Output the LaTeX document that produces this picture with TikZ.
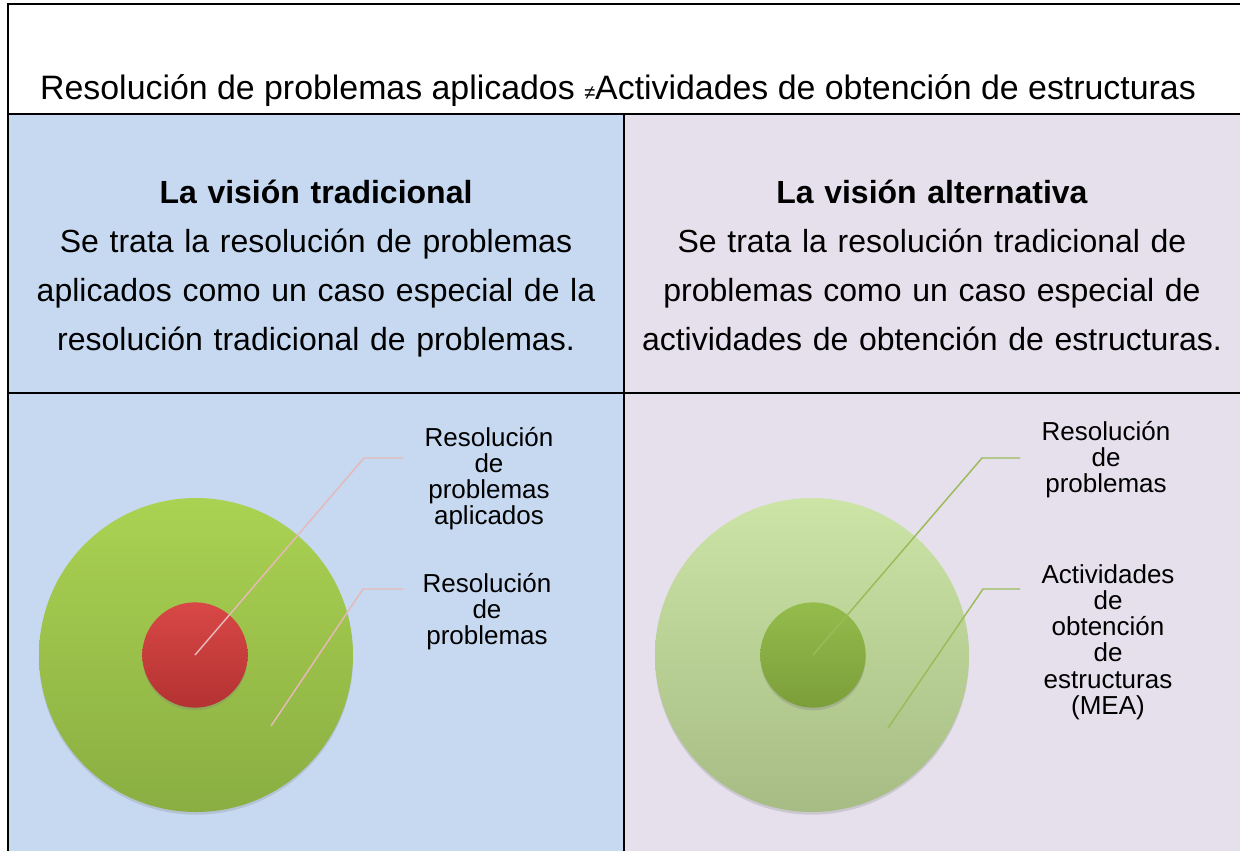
\documentclass[tikz,border=0pt]{standalone}
\usepackage{fontspec}
\setmainfont{Liberation Sans}
\usetikzlibrary{shadows}

\definecolor{cellBlue}{RGB}{198,217,241}
\definecolor{cellLilac}{RGB}{229,224,236}
\definecolor{greenTop}{RGB}{170,210,82}
\definecolor{greenBot}{RGB}{138,174,66}
\definecolor{redTop}{RGB}{216,72,70}
\definecolor{redBot}{RGB}{180,50,50}
\definecolor{paleTop}{RGB}{204,228,166}
\definecolor{paleBot}{RGB}{166,188,132}
\definecolor{darkTop}{RGB}{148,188,76}
\definecolor{darkBot}{RGB}{124,158,58}
\definecolor{leadPink}{RGB}{230,185,184}
\definecolor{leadGreen}{RGB}{155,187,89}

\tikzset{every picture/.style={line width=0.75pt}}
\tikzset{
	rule/.style={line width=1.5pt, black},
	cell text/.style={font=\fontsize{24}{36.75}\selectfont, align=center, text width=450pt, inner sep=0pt, anchor=base},
	label text/.style={font=\fontsize{19.5}{19.7}\selectfont, align=center, text width=110pt, inner sep=0pt, anchor=base},
	big disc/.style={circle, inner sep=0pt, minimum size=235.5pt, drop shadow={opacity=0.25, shadow xshift=0pt, shadow yshift=-2pt}},
	small disc/.style={circle, inner sep=0pt, minimum size=79pt, drop shadow={opacity=0.3, shadow xshift=0pt, shadow yshift=-2pt}},
	lead pink/.style={leadPink, line width=1.1pt},
	lead green/.style={leadGreen, line width=1.1pt}}

\begin{document}
\begin{tikzpicture}[x=0.75pt,y=0.75pt,yscale=-1,xscale=1]
	\useasboundingbox (0,0) rectangle (1240,851);

	%Cells
	\fill [white] (0,0) rectangle (1240,851);
	\fill [cellBlue] (8,114) rectangle (624,851);
	\fill [cellLilac] (624,114) rectangle (1240,851);
	\draw [rule] (8,851) -- (8,4) -- (1240,4);
	\draw [rule] (8,114) -- (1240,114);
	\draw [rule] (8,393) -- (1240,393);
	\draw [rule] (624,114) -- (624,851);

	% Text Node
	\node (head) [anchor=base, font=\fontsize{25.4}{25.4}\selectfont] at (618,99) {Resolución de problemas aplicados {\fontsize{15}{15}\selectfont ≠}Actividades de obtención de estructuras};
	% Text Node
	\node (viewL) [cell text] at (316,203) {\textbf{La visión tradicional}\\Se trata la resolución de problemas\\aplicados como un caso especial de la\\resolución tradicional de problemas.};
	% Text Node
	\node (viewR) [cell text] at (932,203) {\textbf{La visión alternativa}\\Se trata la resolución tradicional de\\problemas como un caso especial de\\actividades de obtención de estructuras.};

	%Left discs
	\node (outerL) [big disc, top color=greenTop, bottom color=greenBot] at (196,655) {};
	\node (innerL) [small disc, top color=redTop, bottom color=redBot] at (195,655) {};
	\coordinate (kneeLA) at (364,458);
	\coordinate (endLA) at (403,458);
	\coordinate (startLB) at (271,726);
	\coordinate (kneeLB) at (363,589);
	\coordinate (endLB) at (403,589);
	\draw [lead pink] (innerL.center) -- (kneeLA) -- (endLA);
	\draw [lead pink] (startLB) -- (kneeLB) -- (endLB);
	% Text Node
	\node (lblLA) [label text] at (489,446) {Resolución\\de\\problemas\\aplicados};
	% Text Node
	\node (lblLB) [label text] at (487,592) {Resolución\\de\\problemas};

	%Right discs
	\node (outerR) [big disc, top color=paleTop, bottom color=paleBot] at (812,655) {};
	\node (innerR) [small disc, top color=darkTop, bottom color=darkBot] at (813,655) {};
	\coordinate (kneeRA) at (982,458);
	\coordinate (endRA) at (1020,458);
	\coordinate (startRB) at (888,728);
	\coordinate (kneeRB) at (983,589);
	\coordinate (endRB) at (1020,589);
	\draw [lead green] (innerR.center) -- (kneeRA) -- (endRA);
	\draw [lead green] (startRB) -- (kneeRB) -- (endRB);
	% Text Node
	\node (lblRA) [label text] at (1106,440) {Resolución\\de\\problemas};
	% Text Node
	\node (lblRB) [label text] at (1108,583) {Actividades\\de\\obtención\\de\\estructuras\\(MEA)};

\end{tikzpicture}
\end{document}
